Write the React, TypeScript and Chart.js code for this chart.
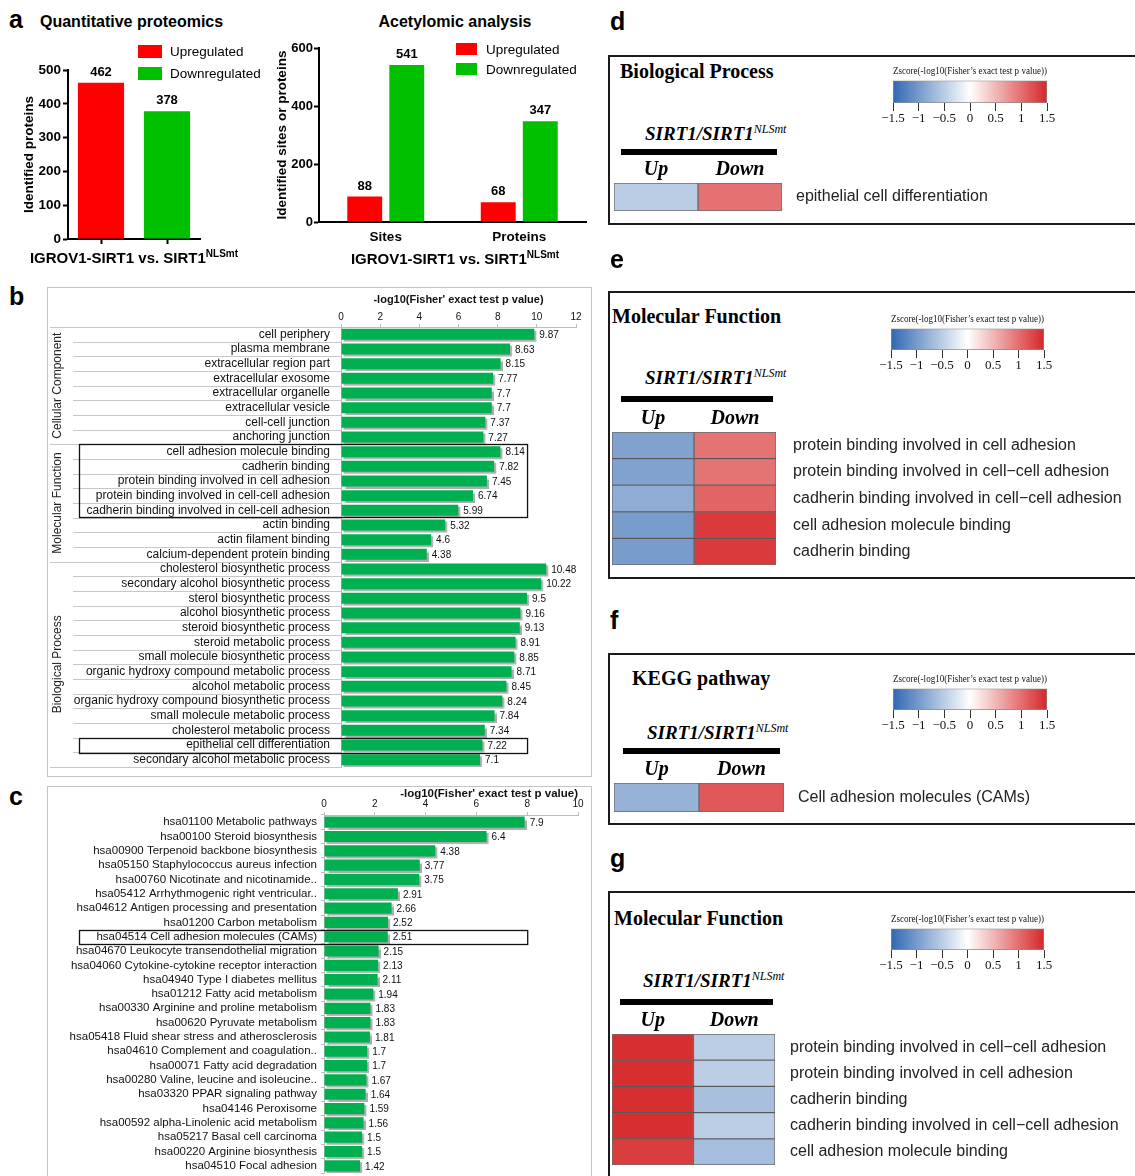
import React, { useEffect, useRef } from 'react';
import { Chart, registerables } from 'chart.js';

Chart.register(...registerables);

const SANS = '"Liberation Sans", Arial, Helvetica, sans-serif';
const SERIF = '"Liberation Serif", "Times New Roman", Times, serif';

const UP_RED = '#ff0000';
const DOWN_GREEN = '#00c000';
const ENRICH_GREEN = '#00b050';
const FRAME_GREY = '#c4c4c4';

// ---- a: differential counts ----
const REG_SERIES = ['Upregulated', 'Downregulated'];
const PROTEOME_COUNTS = [462, 378];
const ACETYL_CATEGORIES = ['Sites', 'Proteins'];
const ACETYL_UP = [88, 68];
const ACETYL_DOWN = [541, 347];

// ---- b: GO enrichment ----
const CC_TERMS = [
  'cell periphery', 'plasma membrane', 'extracellular region part', 'extracellular exosome',
  'extracellular organelle', 'extracellular vesicle', 'cell-cell junction', 'anchoring junction',
];
const CC_SCORES = [9.87, 8.63, 8.15, 7.77, 7.7, 7.7, 7.37, 7.27];
const MF_TERMS = [
  'cell adhesion molecule binding', 'cadherin binding', 'protein binding involved in cell adhesion',
  'protein binding involved in cell-cell adhesion', 'cadherin binding involved in cell-cell adhesion',
  'actin binding', 'actin filament binding', 'calcium-dependent protein binding',
];
const MF_SCORES = [8.14, 7.82, 7.45, 6.74, 5.99, 5.32, 4.6, 4.38];
const BP_TERMS = [
  'cholesterol biosynthetic process', 'secondary alcohol biosynthetic process', 'sterol biosynthetic process',
  'alcohol biosynthetic process', 'steroid biosynthetic process', 'steroid metabolic process',
  'small molecule biosynthetic process', 'organic hydroxy compound metabolic process', 'alcohol metabolic process',
  'organic hydroxy compound biosynthetic process', 'small molecule metabolic process',
  'cholesterol metabolic process', 'epithelial cell differentiation', 'secondary alcohol metabolic process',
];
const BP_SCORES = [10.48, 10.22, 9.5, 9.16, 9.13, 8.91, 8.85, 8.71, 8.45, 8.24, 7.84, 7.34, 7.22, 7.1];
const GO_GROUPS = ['Cellular Component', 'Molecular Function', 'Biological Process'];
const GO_BOXED = [
  ['cell adhesion molecule binding', 'cadherin binding involved in cell-cell adhesion'],
  ['epithelial cell differentiation', 'epithelial cell differentiation'],
];

// ---- c: KEGG enrichment ----
const KEGG_TERMS = [
  'hsa01100 Metabolic pathways', 'hsa00100 Steroid biosynthesis', 'hsa00900 Terpenoid backbone biosynthesis',
  'hsa05150 Staphylococcus aureus infection', 'hsa00760 Nicotinate and nicotinamide..',
  'hsa05412 Arrhythmogenic right ventricular..', 'hsa04612 Antigen processing and presentation',
  'hsa01200 Carbon metabolism', 'hsa04514 Cell adhesion molecules (CAMs)',
  'hsa04670 Leukocyte transendothelial migration', 'hsa04060 Cytokine-cytokine receptor interaction',
  'hsa04940 Type I diabetes mellitus', 'hsa01212 Fatty acid metabolism', 'hsa00330 Arginine and proline metabolism',
  'hsa00620 Pyruvate metabolism', 'hsa05418 Fluid shear stress and atherosclerosis',
  'hsa04610 Complement and coagulation..', 'hsa00071 Fatty acid degradation',
  'hsa00280 Valine, leucine and isoleucine..', 'hsa03320 PPAR signaling pathway', 'hsa04146 Peroxisome',
  'hsa00592 alpha-Linolenic acid metabolism', 'hsa05217 Basal cell carcinoma', 'hsa00220 Arginine biosynthesis',
  'hsa04510 Focal adhesion',
];
const KEGG_SCORES = [
  7.9, 6.4, 4.38, 3.77, 3.75, 2.91, 2.66, 2.52, 2.51, 2.15, 2.13, 2.11, 1.94, 1.83, 1.83, 1.81,
  1.7, 1.7, 1.67, 1.64, 1.59, 1.56, 1.5, 1.5, 1.42,
];
const KEGG_BOXED = [['hsa04514 Cell adhesion molecules (CAMs)', 'hsa04514 Cell adhesion molecules (CAMs)']];

const ENRICH_AXIS_TITLE = "-log10(Fisher' exact test p value)";

// ---- d–g: z-score heatmaps ----
const HM_COLUMNS = ['Up', 'Down'];
const ZSCORE_TICKS = [-1.5, -1, -0.5, 0, 0.5, 1, 1.5];
const ZSCORE_TITLE = 'Zscore(-log10(Fisher\u2019s exact test p value))';

const HM_BP_TERMS = ['epithelial cell differentiation'];
const HM_BP_UP = [-0.5];
const HM_BP_DOWN = [0.98];

const HM_MF_TERMS = [
  'protein binding involved in cell adhesion', 'protein binding involved in cell\u2212cell adhesion',
  'cadherin binding involved in cell\u2212cell adhesion', 'cell adhesion molecule binding', 'cadherin binding',
];
const HM_MF_UP = [-0.92, -0.92, -0.82, -0.98, -0.98];
const HM_MF_DOWN = [0.97, 0.97, 1.07, 1.37, 1.37];

const HM_KEGG_TERMS = ['Cell adhesion molecules (CAMs)'];
const HM_KEGG_UP = [-0.76];
const HM_KEGG_DOWN = [1.15];

const HM_MF2_TERMS = [
  'protein binding involved in cell\u2212cell adhesion', 'protein binding involved in cell adhesion',
  'cadherin binding', 'cadherin binding involved in cell\u2212cell adhesion', 'cell adhesion molecule binding',
];
const HM_MF2_UP = [1.45, 1.45, 1.45, 1.45, 1.35];
const HM_MF2_DOWN = [-0.49, -0.49, -0.63, -0.49, -0.65];

// each heatmap cell spans one unit of its column
const CELL_SPAN = 1;

// diverging palette: blue -> white -> red
const Z_LOW = [49, 104, 177];
const Z_MID = [255, 255, 255];
const Z_HIGH = [214, 39, 40];

function zColor(z: number): string {
  const lim = ZSCORE_TICKS[ZSCORE_TICKS.length - 1];
  const t = Math.max(-1, Math.min(1, z / lim));
  const end = t < 0 ? Z_LOW : Z_HIGH;
  const f = Math.abs(t);
  const c = Z_MID.map((m, i) => Math.round(m + (end[i] - m) * f));
  return `rgb(${c[0]},${c[1]},${c[2]})`;
}

function fmtZ(v: number): string {
  return v < 0 ? '\u2212' + String(Math.abs(v)) : String(v);
}

// ---------- plugins ----------
const barShadow = {
  id: 'barShadow',
  beforeDatasetsDraw(chart: any, _a: any, o: any) {
    const c = chart.ctx;
    c.save();
    c.shadowColor = o.color;
    c.shadowOffsetX = o.offsetX;
    c.shadowOffsetY = o.offsetY;
    c.shadowBlur = o.blur;
  },
  afterDatasetsDraw(chart: any) {
    chart.ctx.restore();
  },
};

const valueLabels = {
  id: 'valueLabels',
  afterDraw(chart: any, _a: any, o: any) {
    const { ctx } = chart;
    const horizontal = chart.options.indexAxis === 'y';
    ctx.save();
    ctx.font = o.font;
    ctx.fillStyle = o.color;
    chart.data.datasets.forEach((ds: any, di: number) => {
      const meta = chart.getDatasetMeta(di);
      meta.data.forEach((el: any, i: number) => {
        const v = ds.data[i];
        if (v === null || v === undefined) return;
        const text = String(v);
        if (horizontal) {
          ctx.textAlign = 'left';
          ctx.textBaseline = 'middle';
          ctx.fillText(text, el.x + o.offset, el.y + 1);
        } else {
          ctx.textAlign = 'center';
          ctx.textBaseline = 'bottom';
          ctx.fillText(text, el.x, el.y - o.offset);
        }
      });
    });
    ctx.restore();
  },
};

const boxLegend = {
  id: 'boxLegend',
  afterDraw(chart: any, _a: any, o: any) {
    const { ctx } = chart;
    ctx.save();
    ctx.font = o.font;
    ctx.textAlign = 'left';
    ctx.textBaseline = 'middle';
    chart.data.datasets.forEach((ds: any, i: number) => {
      const y = o.y + i * o.rowGap;
      ctx.fillStyle = ds.backgroundColor;
      ctx.fillRect(o.x, y, o.boxWidth, o.boxHeight);
      ctx.fillStyle = o.color;
      ctx.fillText(ds.label, o.x + o.boxWidth + o.textGap, y + o.boxHeight / 2 + 1);
    });
    ctx.restore();
  },
};

// row separators, group captions and highlight frames for the enrichment bars
const termDecor = {
  id: 'termDecor',
  afterDraw(chart: any, _a: any, o: any) {
    const { ctx, chartArea } = chart;
    const ys = chart.scales.y;
    const xs = chart.scales.x;
    const labels: string[] = chart.data.labels;
    const n = labels.length;
    const step = ys.getPixelForValue(1) - ys.getPixelForValue(0);
    const edge = (i: number) => ys.getPixelForValue(i) - step / 2;
    ctx.save();
    if (o.groups && o.groups.length) {
      const starts = new Set<number>(o.groups.map((g: any) => g.from));
      starts.add(n);
      ctx.strokeStyle = o.lineColor;
      ctx.lineWidth = 1;
      for (let i = 0; i <= n; i++) {
        const yy = Math.round(edge(i)) + 0.5;
        const x0 = starts.has(i) ? o.outerLeft : o.innerLeft;
        ctx.beginPath();
        ctx.moveTo(x0, yy);
        ctx.lineTo(chartArea.left, yy);
        ctx.stroke();
      }
      ctx.fillStyle = o.groupColor;
      ctx.font = o.groupFont;
      ctx.textAlign = 'center';
      ctx.textBaseline = 'middle';
      o.groups.forEach((g: any) => {
        const cy = (edge(g.from) + edge(g.to + 1)) / 2;
        ctx.save();
        ctx.translate(o.groupX, cy);
        ctx.rotate(-Math.PI / 2);
        ctx.fillText(g.label, 0, 0);
        ctx.restore();
      });
    }
    ctx.strokeStyle = '#111';
    ctx.lineWidth = 1.3;
    (o.boxes || []).forEach((b: any) => {
      const i0 = labels.indexOf(b[0]);
      const i1 = labels.indexOf(b[1]);
      const top = edge(i0);
      const bottom = edge(i1 + 1);
      const right = xs.getPixelForValue(o.boxRight);
      ctx.strokeRect(o.boxLeft + 0.5, Math.round(top) + 0.5, right - o.boxLeft, Math.round(bottom - top));
    });
    ctx.restore();
  },
};

// ---------- chart configs ----------
const noChrome = { legend: { display: false }, tooltip: { enabled: false }, title: { display: false } };

function blackAxis(extra: any) {
  return {
    border: { color: '#000', width: 2 },
    ...extra,
  };
}

function proteomeConfig() {
  return {
    type: 'bar',
    data: {
      labels: ['', ''],
      datasets: [
        { label: REG_SERIES[0], data: [PROTEOME_COUNTS[0], null], backgroundColor: UP_RED, skipNull: true },
        { label: REG_SERIES[1], data: [null, PROTEOME_COUNTS[1]], backgroundColor: DOWN_GREEN, skipNull: true },
      ],
    },
    plugins: [valueLabels, boxLegend],
    options: {
      responsive: false,
      animation: false,
      layout: { padding: { top: 35, right: 65, bottom: 5, left: 0 } },
      datasets: { bar: { barPercentage: 0.7, categoryPercentage: 1 } },
      plugins: {
        ...noChrome,
        valueLabels: { font: `bold 13px ${SANS}`, color: '#000', offset: 4 },
        boxLegend: { x: 123, y: 10, boxWidth: 24, boxHeight: 13, rowGap: 22, textGap: 8, font: `13.5px ${SANS}`, color: '#000' },
      },
      scales: {
        x: blackAxis({
          grid: { display: true, drawOnChartArea: false, drawTicks: true, tickLength: 5, tickWidth: 2, tickColor: '#000', offset: false },
          ticks: { callback: () => '', padding: 0 },
          afterFit: (s: any) => { s.height = 6; },
        }),
        y: blackAxis({
          min: 0,
          max: 500,
          ticks: { stepSize: 100, font: { family: SANS, size: 13.5, weight: 'bold' }, color: '#000', padding: 2 },
          grid: { drawOnChartArea: false, drawTicks: true, tickLength: 5, tickWidth: 2, tickColor: '#000' },
          title: { display: true, text: 'Identified proteins', font: { family: SANS, size: 13.5, weight: 'bold' }, color: '#000', padding: { top: 6, bottom: 0 } },
          afterFit: (s: any) => { s.width = 53; },
        }),
      },
    },
  };
}

function acetylConfig() {
  return {
    type: 'bar',
    data: {
      labels: ACETYL_CATEGORIES,
      datasets: [
        { label: REG_SERIES[0], data: ACETYL_UP, backgroundColor: UP_RED },
        { label: REG_SERIES[1], data: ACETYL_DOWN, backgroundColor: DOWN_GREEN },
      ],
    },
    plugins: [valueLabels, boxLegend],
    options: {
      responsive: false,
      animation: false,
      layout: { padding: { top: 18, right: 14, bottom: 0, left: 0 } },
      datasets: { bar: { barPercentage: 0.83, categoryPercentage: 0.63 } },
      plugins: {
        ...noChrome,
        valueLabels: { font: `bold 13px ${SANS}`, color: '#000', offset: 4 },
        boxLegend: { x: 186, y: 13, boxWidth: 21, boxHeight: 12, rowGap: 20, textGap: 9, font: `13.5px ${SANS}`, color: '#000' },
      },
      scales: {
        x: blackAxis({
          grid: { display: false, drawTicks: false },
          ticks: { font: { family: SANS, size: 13.5, weight: 'bold' }, color: '#000', padding: 7 },
          afterFit: (s: any) => { s.height = 28; },
        }),
        y: blackAxis({
          min: 0,
          max: 600,
          ticks: { stepSize: 200, font: { family: SANS, size: 13, weight: 'bold' }, color: '#000', padding: 1 },
          grid: { drawOnChartArea: false, drawTicks: true, tickLength: 5, tickWidth: 2, tickColor: '#000' },
          title: { display: true, text: 'Identified sites or proteins', font: { family: SANS, size: 13.5, weight: 'bold' }, color: '#000', padding: { top: 4, bottom: 0 } },
          afterFit: (s: any) => { s.width = 49; },
        }),
      },
    },
  };
}

function enrichConfig(opts: any) {
  return {
    type: 'bar',
    data: {
      labels: opts.terms,
      datasets: [{ data: opts.scores, backgroundColor: ENRICH_GREEN, barPercentage: opts.barPct, categoryPercentage: 1 }],
    },
    plugins: [barShadow, valueLabels, termDecor],
    options: {
      indexAxis: 'y',
      responsive: false,
      animation: false,
      layout: { padding: { top: 0, right: opts.padRight, bottom: opts.padBottom, left: 0 } },
      plugins: {
        ...noChrome,
        barShadow: { color: 'rgba(0,0,0,0.32)', offsetX: 2, offsetY: 2, blur: 1 },
        valueLabels: { font: `10px ${SANS}`, color: '#111', offset: 5 },
        termDecor: {
          groups: opts.groups,
          boxes: opts.boxes,
          boxRight: opts.boxRight,
          boxLeft: 32,
          outerLeft: 3,
          innerLeft: 26,
          groupX: 11,
          groupFont: `12px ${SANS}`,
          groupColor: '#222',
          lineColor: '#c8c8c8',
        },
      },
      scales: {
        x: {
          position: 'top',
          min: 0,
          max: opts.max,
          ticks: { stepSize: 2, font: { family: SANS, size: 10 }, color: '#111', padding: opts.tickPad },
          grid: { drawOnChartArea: false, drawTicks: true, tickLength: 3, color: '#bdbdbd' },
          border: { color: '#bdbdbd' },
          title: {
            display: true,
            text: ENRICH_AXIS_TITLE,
            align: opts.titleAlign,
            font: { family: SANS, size: opts.titleSize, weight: 'bold' },
            color: '#111',
            padding: { top: opts.titlePad, bottom: 0 },
          },
          afterFit: (s: any) => { s.height = opts.axisHeight; },
        },
        y: {
          ticks: { font: { family: SANS, size: opts.labelSize }, color: '#111', padding: opts.labelPad, autoSkip: false },
          grid: { display: true, drawOnChartArea: false, drawTicks: true, tickLength: opts.tickLen, color: opts.tickColor, offset: true },
          border: { color: '#bdbdbd' },
          afterFit: (s: any) => { s.width = opts.labelWidth; },
        },
      },
    },
  };
}

function goConfig() {
  const terms = [...CC_TERMS, ...MF_TERMS, ...BP_TERMS];
  const scores = [...CC_SCORES, ...MF_SCORES, ...BP_SCORES];
  const sizes = [CC_TERMS.length, MF_TERMS.length, BP_TERMS.length];
  let start = 0;
  const groups = GO_GROUPS.map((label, i) => {
    const g = { label, from: start, to: start + sizes[i] - 1 };
    start += sizes[i];
    return g;
  });
  return enrichConfig({
    terms, scores, groups, boxes: GO_BOXED, boxRight: 9.5, barPct: 0.75,
    padRight: 16, padBottom: 10, max: 12, tickPad: 1, titleAlign: 'center', titleSize: 11, titlePad: 6,
    axisHeight: 40, labelSize: 12, labelPad: 0, tickLen: 11, tickColor: 'rgba(0,0,0,0)', labelWidth: 294,
  });
}

function keggConfig() {
  return enrichConfig({
    terms: KEGG_TERMS, scores: KEGG_SCORES, groups: [], boxes: KEGG_BOXED, boxRight: 8, barPct: 0.78,
    padRight: 14, padBottom: 13, max: 10, tickPad: 2, titleAlign: 'end', titleSize: 11.5, titlePad: 1,
    axisHeight: 29, labelSize: 11.5, labelPad: 4, tickLen: 3, tickColor: '#bdbdbd', labelWidth: 277,
  });
}

function heatmapConfig(terms: string[], up: number[], down: number[], cellWidth: number, canvasWidth: number, gap: number) {
  return {
    type: 'bar',
    data: {
      labels: terms,
      datasets: [
        { label: HM_COLUMNS[0], data: up.map(() => CELL_SPAN), backgroundColor: up.map(zColor) },
        { label: HM_COLUMNS[1], data: down.map(() => CELL_SPAN), backgroundColor: down.map(zColor) },
      ],
    },
    options: {
      indexAxis: 'y',
      responsive: false,
      animation: false,
      layout: { padding: { top: 0, right: 0, bottom: 12, left: 0 } },
      datasets: {
        bar: { barPercentage: 1, categoryPercentage: 1, borderWidth: 1, borderColor: 'rgba(60,60,60,0.75)', borderSkipped: false },
      },
      plugins: { ...noChrome },
      scales: {
        x: {
          position: 'top',
          stacked: true,
          min: 0,
          max: HM_COLUMNS.length,
          grid: { display: false, drawTicks: false },
          border: { display: false },
          afterBuildTicks: (s: any) => { s.ticks = HM_COLUMNS.map((_c, i) => ({ value: i + 0.5 })); },
          ticks: {
            callback: (_v: any, i: number) => HM_COLUMNS[i],
            font: { family: SERIF, size: 20, weight: 'bold', style: 'italic' },
            color: '#000',
            padding: 1,
            autoSkip: false,
            maxRotation: 0,
          },
          afterFit: (s: any) => { s.height = 30; },
        },
        y: {
          position: 'right',
          stacked: true,
          grid: { display: true, drawOnChartArea: false, drawTicks: true, tickLength: gap, tickColor: 'rgba(0,0,0,0)' },
          border: { display: false },
          ticks: { font: { family: SANS, size: 16 }, color: '#222', padding: 0, autoSkip: false },
          afterFit: (s: any) => { s.width = canvasWidth - cellWidth; },
        },
      },
    },
  };
}

function colorbarConfig() {
  const lo = ZSCORE_TICKS[0];
  const hi = ZSCORE_TICKS[ZSCORE_TICKS.length - 1];
  return {
    type: 'bar',
    data: {
      labels: [''],
      datasets: [{
        data: [[lo, hi]],
        backgroundColor: (c: any) => {
          const area = c.chart.chartArea;
          if (!area) return zColor(0);
          const g = c.chart.ctx.createLinearGradient(area.left, 0, area.right, 0);
          for (let k = 0; k <= 12; k++) {
            const t = k / 12;
            g.addColorStop(t, zColor(lo + (hi - lo) * t));
          }
          return g;
        },
        borderColor: '#8c8c8c',
        borderWidth: 1,
        borderSkipped: false,
        barPercentage: 1,
        categoryPercentage: 1,
      }],
    },
    options: {
      indexAxis: 'y',
      responsive: false,
      animation: false,
      layout: { padding: { top: 0, right: 30, bottom: 0, left: 30 } },
      plugins: {
        legend: { display: false },
        tooltip: { enabled: false },
        title: {
          display: true,
          text: ZSCORE_TITLE,
          font: { family: SERIF, size: 10.5, weight: 'normal' },
          color: '#111',
          padding: { top: 0, bottom: 3 },
        },
      },
      scales: {
        x: {
          min: lo,
          max: hi,
          afterBuildTicks: (s: any) => { s.ticks = ZSCORE_TICKS.map((v) => ({ value: v })); },
          ticks: { callback: (v: any) => fmtZ(Number(v)), font: { family: SERIF, size: 13 }, color: '#111', padding: 0, autoSkip: false, maxRotation: 0 },
          grid: { drawOnChartArea: false, drawTicks: true, tickLength: 8, tickColor: '#333' },
          border: { display: false },
          afterFit: (s: any) => { s.height = 26; },
        },
        y: { display: false },
      },
    },
  };
}

// ---------- components ----------
function ChartCanvas({ left, top, width, height, make }: { left: number; top: number; width: number; height: number; make: () => any }) {
  const ref = useRef<HTMLCanvasElement | null>(null);
  useEffect(() => {
    if (!ref.current) return undefined;
    const chart = new Chart(ref.current, make());
    return () => chart.destroy();
  }, []);
  return (
    <div style={{ position: 'absolute', left, top, width, height }}>
      <canvas ref={ref} width={width} height={height} style={{ display: 'block', width, height }} />
    </div>
  );
}

function Txt({ x, y, size, children, font = SANS, weight = 'normal', fstyle = 'normal', anchor = 'start', color = '#000' }: any) {
  const h = Math.round(size * 1.4);
  return (
    <div
      style={{
        position: 'absolute', left: x, top: y - h / 2, height: h, lineHeight: `${h}px`,
        fontFamily: font, fontSize: size, fontWeight: weight, fontStyle: fstyle, color, whiteSpace: 'nowrap',
        transform: anchor === 'middle' ? 'translateX(-50%)' : undefined,
      }}
    >
      {children}
    </div>
  );
}

function Sup({ size, raise, weight = 'inherit', children }: any) {
  return <span style={{ fontSize: size, position: 'relative', top: -raise, fontWeight: weight }}>{children}</span>;
}

function HeatPanel(p: any) {
  const cw = 1135 - p.cells.x;
  const ch = 30 + p.cells.h + 12;
  const cb = p.bar;
  return (
    <>
      <Txt x={610} y={p.letterY} size={25} weight="bold">{p.letter}</Txt>
      <div style={{ position: 'absolute', left: 608, top: p.boxTop, width: 600, height: p.boxHeight, border: '2px solid #1a1a1a', boxSizing: 'border-box' }} />
      <Txt x={p.headX} y={p.headY} size={20} font={SERIF} weight="bold">{p.heading}</Txt>
      <Txt x={p.sirtX} y={p.sirtY} size={19} font={SERIF} weight="bold" fstyle="italic">
        SIRT1/SIRT1<Sup size={12} raise={7} weight="normal">NLSmt</Sup>
      </Txt>
      <div style={{ position: 'absolute', left: p.rule.x, top: p.rule.y, width: p.rule.w, height: 6, background: '#000' }} />
      <ChartCanvas left={cb.x - 30} top={cb.y - 15} width={cb.w + 60} height={15 + cb.h + 26} make={colorbarConfig} />
      <ChartCanvas
        left={p.cells.x}
        top={p.cells.y - 30}
        width={cw}
        height={ch}
        make={() => heatmapConfig(p.terms, p.up, p.down, p.cells.w, cw, p.gap)}
      />
    </>
  );
}

export default function App() {
  return (
    <div style={{ position: 'absolute', left: 0, top: 0, width: 1135, height: 1176, overflow: 'hidden', background: '#fff', color: '#000', fontFamily: SANS }}>
      {/* a */}
      <Txt x={9} y={19} size={25} weight="bold">a</Txt>
      <Txt x={40} y={22} size={16} weight="bold">Quantitative proteomics</Txt>
      <ChartCanvas left={15} top={35} width={250} height={215} make={proteomeConfig} />
      <Txt x={134} y={257} size={15} weight="bold" anchor="middle">
        IGROV1-SIRT1 vs. SIRT1<Sup size={10} raise={6}>NLSmt</Sup>
      </Txt>
      <Txt x={455} y={22} size={16} weight="bold" anchor="middle">Acetylomic analysis</Txt>
      <ChartCanvas left={270} top={30} width={330} height={220} make={acetylConfig} />
      <Txt x={455} y={258} size={15} weight="bold" anchor="middle">
        IGROV1-SIRT1 vs. SIRT1<Sup size={10} raise={6}>NLSmt</Sup>
      </Txt>

      {/* b */}
      <Txt x={9} y={296} size={25} weight="bold">b</Txt>
      <div style={{ position: 'absolute', left: 47, top: 287, width: 545, height: 490, border: `1px solid ${FRAME_GREY}`, boxSizing: 'border-box' }} />
      <ChartCanvas left={47} top={287} width={545} height={490} make={goConfig} />

      {/* c */}
      <Txt x={9} y={796} size={25} weight="bold">c</Txt>
      <div style={{ position: 'absolute', left: 47, top: 786, width: 545, height: 400, border: `1px solid ${FRAME_GREY}`, boxSizing: 'border-box' }} />
      <ChartCanvas left={47} top={786} width={545} height={400} make={keggConfig} />

      {/* d */}
      <HeatPanel
        letter="d" letterY={21} boxTop={55} boxHeight={170}
        heading="Biological Process" headX={620} headY={71}
        sirtX={645} sirtY={133} rule={{ x: 621, y: 149, w: 156 }}
        bar={{ x: 893, y: 80, w: 154, h: 23 }}
        cells={{ x: 614, y: 183, w: 168, h: 28 }} gap={14}
        terms={HM_BP_TERMS} up={HM_BP_UP} down={HM_BP_DOWN}
      />
      {/* e */}
      <HeatPanel
        letter="e" letterY={259} boxTop={291} boxHeight={288}
        heading="Molecular Function" headX={612} headY={316}
        sirtX={645} sirtY={377} rule={{ x: 621, y: 396, w: 152 }}
        bar={{ x: 891, y: 328, w: 153, h: 22 }}
        cells={{ x: 612, y: 432, w: 164, h: 133 }} gap={17}
        terms={HM_MF_TERMS} up={HM_MF_UP} down={HM_MF_DOWN}
      />
      {/* f */}
      <HeatPanel
        letter="f" letterY={620} boxTop={653} boxHeight={172}
        heading="KEGG pathway" headX={632} headY={678}
        sirtX={647} sirtY={732} rule={{ x: 623, y: 748, w: 157 }}
        bar={{ x: 893, y: 688, w: 154, h: 22 }}
        cells={{ x: 614, y: 783, w: 170, h: 29 }} gap={14}
        terms={HM_KEGG_TERMS} up={HM_KEGG_UP} down={HM_KEGG_DOWN}
      />
      {/* g */}
      <HeatPanel
        letter="g" letterY={858} boxTop={891} boxHeight={400}
        heading="Molecular Function" headX={614} headY={918}
        sirtX={643} sirtY={980} rule={{ x: 620, y: 999, w: 153 }}
        bar={{ x: 891, y: 928, w: 153, h: 22 }}
        cells={{ x: 612, y: 1034, w: 163, h: 131 }} gap={15}
        terms={HM_MF2_TERMS} up={HM_MF2_UP} down={HM_MF2_DOWN}
      />
    </div>
  );
}
